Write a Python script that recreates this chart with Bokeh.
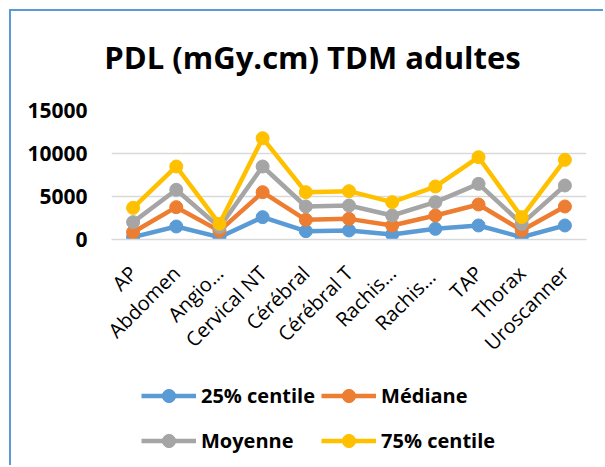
import math
from bokeh.plotting import figure
from bokeh.layouts import column
from bokeh.models import FactorRange, Legend, LegendItem, ColumnDataSource, Label
from bokeh.embed import file_html
from bokeh.resources import INLINE

categories = ["AP", "Abdomen", "Angio…", "Cervical NT", "Cérébral", "Cérébral T",
              "Rachis…", "Rachis… ", "TAP", "Thorax", "Uroscanner"]
p25 = [270, 1510, 270, 2600, 970, 1050, 580, 1240, 1630, 270, 1630]
mediane = [850, 3760, 1000, 5500, 2290, 2400, 1630, 2790, 4070, 1050, 3840]
moyenne = [2020, 5780, 1430, 8490, 3840, 3950, 2790, 4340, 6470, 1820, 6280]
p75 = [3680, 8490, 1820, 11780, 5500, 5620, 4340, 6160, 9570, 2600, 9260]
series_names = ["25% centile", "Médiane", "Moyenne", "75% centile"]
colors = ["#5B9BD5", "#ED7D31", "#A5A5A5", "#FFC000"]
y_ticks = [0, 5000, 10000, 15000]
title_text = "PDL (mGy.cm) TDM adultes"

FONT = "Open Sans"
BORDER = "2px solid #5B9BD5"
W = 594


def strip(height):
    f = figure(width=W, height=height, x_range=(0, 1), y_range=(0, 1),
               x_axis_type=None, y_axis_type=None,
               output_backend="svg", toolbar_location=None,
               min_border_left=0, min_border_right=0, min_border_top=0,
               min_border_bottom=0)
    f.frame_align = False
    f.grid.visible = False
    f.outline_line_color = None
    f.background_fill_color = "white"
    f.border_fill_color = "white"
    return f


# ---- title strip ----
tf = strip(77)
tf.margin = (9, 0, 0, 9)
tf.styles = {"border-left": BORDER, "border-top": BORDER}
tf.add_layout(Label(x=301, y=32, x_units="screen", y_units="screen", text=title_text,
                    text_align="center", text_baseline="alphabetic",
                    text_font=FONT, text_font_style="bold", text_font_size="31px",
                    text_color="black"))

# ---- main chart ----
p = figure(width=W, height=287, x_range=FactorRange(*categories, range_padding=0),
           y_range=(0, 15000), output_backend="svg", toolbar_location=None,
           min_border_left=100, min_border_right=19, min_border_top=24,
           min_border_bottom=134)
p.frame_align = False
p.margin = (0, 0, 0, 9)
p.styles = {"border-left": BORDER}
p.outline_line_color = None
p.background_fill_color = "white"
p.border_fill_color = "white"

source = ColumnDataSource(dict(cat=categories, s0=p25, s1=mediane, s2=moyenne, s3=p75))
for i, col in enumerate(colors):
    p.line("cat", f"s{i}", source=source, line_color=col, line_width=4.5)
    p.scatter("cat", f"s{i}", source=source, size=13, fill_color=col, line_color=col)

p.yaxis.ticker = y_ticks
p.yaxis.axis_line_color = None
p.yaxis.major_tick_line_color = None
p.yaxis.minor_tick_line_color = None
p.yaxis.major_tick_out = 0
p.yaxis.major_label_standoff = 24
p.yaxis.major_label_text_font = FONT
p.yaxis.major_label_text_font_style = "bold"
p.yaxis.major_label_text_font_size = "21px"
p.yaxis.major_label_text_color = "black"

p.xaxis.axis_line_color = "#D9D9D9"
p.xaxis.axis_line_width = 1.5
p.xaxis.major_tick_line_color = None
p.xaxis.major_tick_out = 0
p.xaxis.major_label_orientation = math.pi / 4
p.xaxis.major_label_standoff = 30
p.xaxis.major_label_text_font = FONT
p.xaxis.major_label_text_font_size = "20px"
p.xaxis.major_label_text_color = "black"

p.xgrid.grid_line_color = None
p.ygrid.grid_line_color = "#D9D9D9"
p.ygrid.grid_line_width = 1.5

# ---- legend strip ----
lf = strip(92)
lf.margin = (0, 0, 0, 9)
lf.styles = {"border-left": BORDER}

items = {}
for name, col in zip(series_names, colors):
    hidden = ColumnDataSource(dict(x=[float("nan")], y=[float("nan")]))
    lr = lf.line("x", "y", source=hidden, line_color=col, line_width=4.5)
    sr = lf.scatter("x", "y", source=hidden, size=13, fill_color=col, line_color=col)
    items[name] = LegendItem(label=name, renderers=[lr, sr])

# column-major fill: first column 25% / Moyenne, second column Médiane / 75%
order = [series_names[0], series_names[2], series_names[1], series_names[3]]
legend = Legend(items=[items[n] for n in order], location=(130, 5), ncols=2,
                padding=0, margin=0, spacing=6,
                glyph_width=55, glyph_height=33, label_height=39,
                label_standoff=5, label_text_font=FONT, label_text_font_style="bold",
                label_text_font_size="20px", label_text_color="black",
                border_line_color=None, background_fill_alpha=0)
lf.add_layout(legend, "center")

layout = column(tf, p, lf, spacing=0)
open("out.html", "w").write(file_html(layout, INLINE))
